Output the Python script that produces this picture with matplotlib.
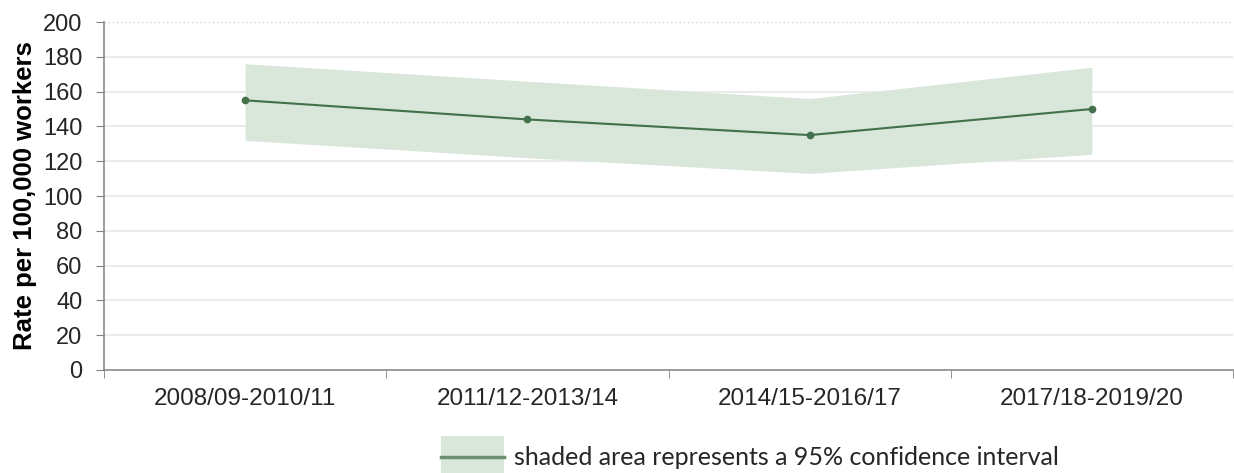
import matplotlib
matplotlib.use("Agg")
import matplotlib.pyplot as plt
from matplotlib.lines import Line2D
from matplotlib.patches import Rectangle
from matplotlib.legend_handler import HandlerBase

categories = ["2008/09-2010/11", "2011/12-2013/14", "2014/15-2016/17", "2017/18-2019/20"]
rate = [155, 144, 135, 150]
ci_upper = [176, 166, 156, 174]
ci_lower = [132, 122, 113, 124]
yticks = [0, 20, 40, 60, 80, 100, 120, 140, 160, 180, 200]

line_col = "#41704a"
fill_col = "#d9e6da"
text_col = "#262626"

plt.rcParams["font.family"] = ["Liberation Sans", "DejaVu Sans"]

fig = plt.figure(figsize=(12.34, 4.73), dpi=100)
ax = fig.add_axes([104/1234, 1-370/473, (1233-104)/1234, (370-22)/473])

x = list(range(len(categories)))
ax.fill_between(x, ci_lower, ci_upper, color=fill_col, zorder=2, lw=0)
ax.plot(x, rate, color=line_col, lw=1.5, marker="o", ms=4.5, zorder=3)

ax.set_xlim(-0.5, len(categories) - 0.5)
ax.set_ylim(0, 200)
ax.set_yticks(yticks)
ax.set_xticks(x)
ax.set_xticklabels(categories, fontsize=17.5, color=text_col)
ax.set_xticks([i + 0.5 for i in range(-1, len(categories))], minor=True)
ax.tick_params(axis="x", which="major", length=0, pad=13)
ax.tick_params(axis="x", which="minor", length=5.5, color="#808080")
ax.tick_params(axis="y", length=5.5, color="#808080", labelsize=17, labelcolor=text_col, pad=10)

for v in yticks[1:-1]:
    ax.axhline(v, color="#e8e8e8", lw=1.2, zorder=1)
ax.axhline(200, color="#cfcfcf", lw=1, ls=(0, (1, 2)), zorder=1)

for s in ["top", "right"]:
    ax.spines[s].set_visible(False)
for s in ["left", "bottom"]:
    ax.spines[s].set_color("#8a8a8a")
    ax.spines[s].set_linewidth(1.2)

ax.set_ylabel("Rate per 100,000 workers", fontsize=18.5, fontweight="bold", color="#000000", labelpad=4)


class BandLine(HandlerBase):
    def create_artists(self, legend, orig, xd, yd, w, h, fs, trans):
        cy = yd + h / 2 - 1
        p = Rectangle((xd, cy - 15), w, 30, facecolor=fill_col, lw=0, transform=trans)
        l = Line2D([xd, xd + w], [cy, cy], color="#6b8f70", lw=2.5, transform=trans)
        return [p, l]


fig.legend([object()], ["shaded area represents a 95% confidence interval"],
           handler_map={object: BandLine()}, loc="center", bbox_to_anchor=(750/1234, 1-457/473),
           frameon=False, prop={"family": "Lato", "size": 18}, handlelength=2.55, handletextpad=0.4,
           labelcolor=text_col, borderpad=0)

fig.savefig("out.png", dpi=100)
